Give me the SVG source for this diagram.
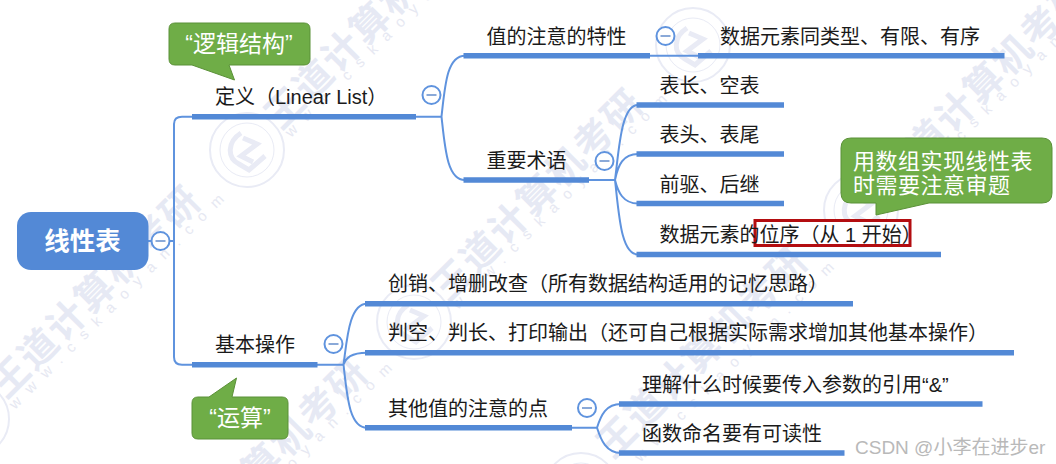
<svg xmlns="http://www.w3.org/2000/svg" width="1056" height="464" viewBox="0 0 1056 464">
<style>
text{font-family:"Liberation Sans","Noto Sans CJK SC",sans-serif}
.t{font-size:20px;fill:#1a1a1a}
.n{font-size:23px;fill:#fff}
.wm{font-size:38px;font-weight:700;fill:#e6e9f4;letter-spacing:2px}
.ws{font-size:15px;fill:#e6e8f2;letter-spacing:11px}
.bar{stroke:#5389d6;stroke-width:5.5;fill:none}
.thin{stroke:#5f93de;stroke-width:2;fill:none}
.cb{fill:#fff;stroke:#5f93de;stroke-width:2}
.cm{stroke:#8aa9d8;stroke-width:2}
.call{fill:#6fad47;stroke:#5b9138;stroke-width:1}
.ring{fill:none;stroke:#e9ebf5}
</style>
<defs>
<g id="stamp">
<circle class="ring" r="37" stroke-width="2"/>
<circle class="ring" r="27" stroke-width="1"/>
<path class="ring" stroke-width="5" d="M-6-17C-20-8-20 8-8 14L2 20L18 6M-4-12L10-6L-6 6L6 12"/>
</g>
</defs>
<rect width="1056" height="464" fill="#fff"/>
<g id="watermarks">
<use href="#stamp" x="247" y="150"/>
<use href="#stamp" x="414" y="322"/>
<use href="#stamp" x="693" y="45"/>
<use href="#stamp" x="861" y="210"/>
<use href="#stamp" x="-28" y="419"/>
<use href="#stamp" x="581" y="490"/>
<text class="wm" transform="translate(281 131) rotate(-45)">王道计算机考研</text>
<text class="wm" transform="translate(448 303) rotate(-45)">王道计算机考研</text>
<text class="wm" transform="translate(895 191) rotate(-45)">王道计算机考研</text>
<text class="wm" transform="translate(6 400) rotate(-45)">王道计算机考研</text>
<text class="wm" transform="translate(613 460) rotate(-45)">王道计算机考研</text>
<text class="wm" transform="translate(173 572) rotate(-45)">王道计算机考研</text>
<text class="ws" transform="translate(291 138) rotate(-45)">www.cskaoyan.com</text>
<text class="ws" transform="translate(458 310) rotate(-45)">www.cskaoyan.com</text>
<text class="ws" transform="translate(905 198) rotate(-45)">www.cskaoyan.com</text>
<text class="ws" transform="translate(15 410) rotate(-45)">www.cskaoyan.com</text>
<text class="ws" transform="translate(625 478) rotate(-45)">www.cskaoyan.com</text>
<text class="ws" transform="translate(183 579) rotate(-45)">www.cskaoyan.com</text>
</g>
<g id="connectors">
<path class="thin" d="M148 241H174M192 116.700H182Q174 116.700 174 124V357Q174 364.700 182 364.700H192"/>
<path class="thin" d="M416 116.700H441.500M441.500 116.700C445 85 447 55.700 465 55.700M441.500 116.700C445 148 447 180 465 180"/>
<path class="thin" d="M650 55.700H698"/>
<path class="thin" d="M589 180H615M615 180C619 150 621 105 638 105M615 180C618 165 623 154 638 154M615 180C618 192 623 203.500 638 203.500M615 180C619 215 621 254.500 638 254.500"/>
<path class="thin" d="M317 364.700H343.500M343.500 364.700C347 340 349 303.700 367 303.700M343.500 364.700C346 358 351 352.700 367 352.700M343.500 364.700C347 395 349 427.700 367 427.700"/>
<path class="thin" d="M572 427.700H597M597 427.700C601 415 606 404 621 404M597 427.700C601 440 606 453 621 453"/>
<path class="bar" d="M192 116.700H416M463.500 55.700H650M698 55.700H1004.500M463.500 180H589M636.500 105H784M636.500 154H784M636.500 203.500H784M636.500 254.500H941M192 364.700H317.500M365 303.700H853M365 352.700H1014M365 427.700H572M619 404H982.500M619 453H844.500"/>
</g>
<g id="root">
<rect x="17" y="212" width="131.500" height="58" rx="14" fill="#5389d6"/>
<text x="82.500" y="250" text-anchor="middle" font-size="25.500" font-weight="700" fill="#fff">线性表</text>
<circle class="cb" cx="160.500" cy="241" r="9"/><path class="cm" d="M155.500 241H165.500"/>
</g>
<g id="n-def">
<text class="t" x="215" y="104">定义（Linear List）</text>
<circle class="cb" cx="431.500" cy="95" r="9"/><path class="cm" d="M426.500 95H436.500"/>
</g>
<g id="n-value">
<text class="t" x="486.500" y="44">值的注意的特性</text>
<circle class="cb" cx="665.500" cy="36" r="9"/><path class="cm" d="M660.500 36H670.500"/>
</g>
<g id="n-value-1"><text class="t" x="720" y="44">数据元素同类型、有限、有序</text></g>
<g id="n-term"><text class="t" x="486.500" y="168">重要术语</text>
<circle class="cb" cx="604.500" cy="161" r="9"/><path class="cm" d="M599.500 161H609.500"/>
</g>
<g id="n-term-1"><text class="t" x="659.500" y="93">表长、空表</text></g>
<g id="n-term-2"><text class="t" x="659.500" y="142">表头、表尾</text></g>
<g id="n-term-3"><text class="t" x="659.500" y="192">前驱、后继</text></g>
<g id="n-term-4">
<rect x="755" y="220.500" width="155" height="25" fill="#fff" stroke="#b30d10" stroke-width="3"/>
<text class="t" x="659.500" y="242">数据元素的位序（从 1 开始）</text>
</g>
<g id="n-ops">
<text class="t" x="215" y="352">基本操作</text>
<circle class="cb" cx="333.500" cy="344" r="9"/><path class="cm" d="M328.500 344H338.500"/>
</g>
<g id="n-op-1"><text class="t" x="388" y="291">创销、增删改查（所有数据结构适用的记忆思路）</text></g>
<g id="n-op-2"><text class="t" x="388" y="340">判空、判长、打印输出（还可自己根据实际需求增加其他基本操作）</text></g>
<g id="n-op-3">
<text class="t" x="388" y="416">其他值的注意的点</text>
<circle class="cb" cx="587" cy="408" r="9"/><path class="cm" d="M582 408H592"/>
</g>
<g id="n-op-3-1"><text class="t" x="642" y="392">理解什么时候要传入参数的引用“&amp;”</text></g>
<g id="n-op-3-2"><text class="t" x="642" y="441">函数命名要有可读性</text></g>
<g id="note-logic">
<path class="call" d="M175 23H304Q310 23 310 29V59Q310 65 304 65H229L234.500 80L192 65H175Q169 65 169 59V29Q169 23 175 23Z"/>
<text class="n" x="239" y="52" text-anchor="middle">“逻辑结构”</text>
</g>
<g id="note-array">
<path class="call" d="M851 138H1042Q1052 138 1052 148V193Q1052 203 1042 203H929L876 215V203H851Q841 203 841 193V148Q841 138 851 138Z"/>
<text class="n" x="853" y="169" font-size="22" letter-spacing=".5" style="font-size:22px">用数组实现线性表</text>
<text class="n" x="853" y="193" font-size="22" letter-spacing=".5" style="font-size:22px">时需要注意审题</text>
</g>
<g id="note-ops">
<path class="call" d="M198 397H209L236.500 378L232 397H282Q288 397 288 403V433Q288 439 282 439H198Q192 439 192 433V403Q192 397 198 397Z"/>
<text class="n" x="240" y="426" text-anchor="middle">“运算”</text>
</g>
<text x="855" y="454" font-size="19" fill="#b9b9b9">CSDN @小李在进步er</text>
</svg>
